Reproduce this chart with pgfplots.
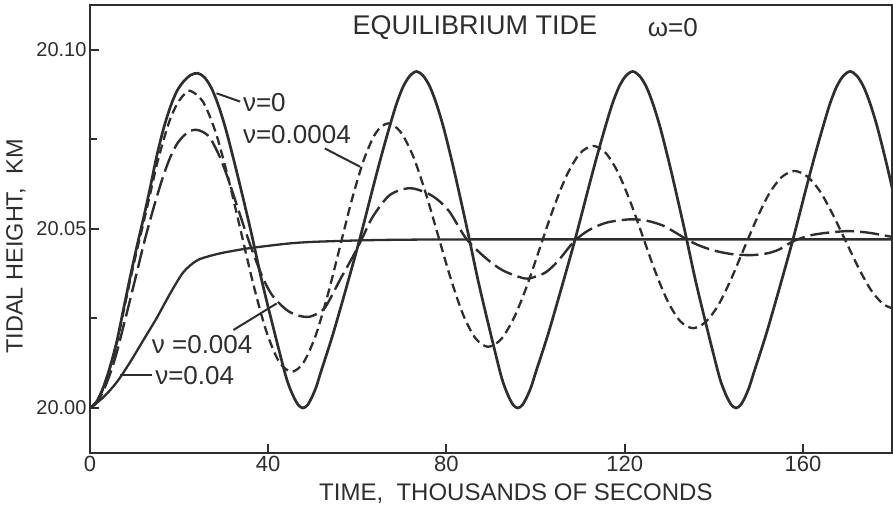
\documentclass[border=0pt]{standalone}
\usepackage{fontspec}
\setmainfont{Liberation Sans}
\usepackage{pgfplots}
\pgfplotsset{compat=1.18}
\definecolor{ink}{gray}{0.18}

\begin{document}
\begin{tikzpicture}
\useasboundingbox (-90pt,-58pt) rectangle (803pt,453pt);
\begin{axis}[
  at={(0pt,0pt)}, anchor=south west,
  scale only axis, width=802pt, height=448pt,
  xmin=0, xmax=180, ymin=19.98743, ymax=20.11257,
  axis line style={ink, line width=2.6pt},
  tick pos=left, tick align=inside,
  tick style={ink, line width=2pt},
  major tick length=9pt,
  xtick={0,40,80,120,160}, xticklabels={0,40,80,120,160},
  ytick={20.00,20.05,20.10}, yticklabels={20.00,20.05,20.10},
  extra y ticks={20.025,20.075}, extra y tick labels={},
  extra y tick style={major tick length=7pt},
  x tick label style={font=\fontsize{22}{26}\selectfont, text=ink},
  y tick label style={font=\fontsize{20}{24}\selectfont, text=ink},
  xlabel={TIME,\ \ THOUSANDS OF SECONDS},
  ylabel={TIDAL HEIGHT,\ \ KM},
  xlabel style={at={(axis description cs:0.531,-0.0915)}, anchor=center, font=\fontsize{24}{28}\selectfont, text=ink},
  ylabel style={at={(axis description cs:-0.0923,0.461)}, anchor=center, font=\fontsize{23.5}{28}\selectfont, text=ink},
]

% nu = 0
\addplot[ink, line width=2.7pt, smooth] coordinates {
(0,20.0000) (1.5,20.0018) (3,20.0058) (4.5,20.0115) (6,20.0185) (7.5,20.0275) (9,20.0365) (10.5,20.0450) (12,20.0530) (13.5,20.0615) (15,20.0705) (16.5,20.0780) (18,20.0840) (19.5,20.0885) (21,20.0912) (22.6,20.0930) (24.2,20.0935)
(25.74,20.0923) (27.28,20.0893) (28.82,20.0845) (30.56,20.0775) (32.92,20.0660) (36.0,20.0500) (38.57,20.0355) (41.13,20.0225) (43.7,20.0100) (44.72,20.0060) (45.75,20.0030) (46.77,20.0008) (47.8,20.0000)
(48.8,20.0008) (49.8,20.0030) (50.8,20.0060) (51.8,20.0100) (54.5,20.0205) (57.5,20.0335) (60.5,20.0470) (63.5,20.0615) (65.3,20.0700) (67.1,20.0780) (68.8,20.0850) (70.3,20.0898) (71.8,20.0928) (73.3,20.0940)
(74.78,20.0928) (76.26,20.0898) (77.74,20.0850) (79.42,20.0780) (81.69,20.0665) (84.65,20.0500) (87.12,20.0355) (89.58,20.0225) (92.05,20.0100) (93.04,20.0060) (94.03,20.0030) (95.01,20.0008) (96.0,20.0000)
(97.01,20.0008) (98.02,20.0030) (99.04,20.0060) (100.05,20.0100) (102.78,20.0205) (105.81,20.0335) (108.85,20.0470) (111.89,20.0615) (113.71,20.0700) (115.53,20.0780) (117.25,20.0850) (118.77,20.0898) (120.28,20.0928) (121.8,20.0940)
(123.31,20.0928) (124.83,20.0898) (126.34,20.0850) (128.05,20.0780) (130.37,20.0665) (133.4,20.0500) (135.92,20.0355) (138.44,20.0225) (140.97,20.0100) (141.97,20.0060) (142.98,20.0030) (143.99,20.0008) (145.0,20.0000)
(146.0,20.0008) (147.01,20.0030) (148.01,20.0060) (149.02,20.0100) (151.73,20.0205) (154.74,20.0335) (157.75,20.0470) (160.76,20.0615) (162.57,20.0700) (164.38,20.0780) (166.08,20.0850) (167.59,20.0898) (169.09,20.0928) (170.6,20.0940)
(172.1,20.0928) (173.6,20.0898) (175.1,20.0850) (176.8,20.0780) (179.1,20.0665) (182.1,20.0500)
};

% nu = 0.0004
\addplot[ink, line width=2.3pt, dash pattern=on 9pt off 5pt, smooth] coordinates {
(0,20.0000) (1.5,20.0017) (3,20.0056) (4.5,20.0112) (6,20.0180) (7.5,20.0268) (9,20.0356) (10.5,20.0439) (12,20.0517) (13.5,20.0598) (15,20.0680) (16.5,20.0748) (18,20.0807) (19.5,20.0848) (21,20.0874) (22.5,20.0886)
(25.34,20.0856) (28.18,20.0771) (31.01,20.0643) (33.85,20.0494) (36.69,20.0344) (39.53,20.0216) (42.36,20.0131) (45.2,20.0101)
(47.91,20.0127) (50.63,20.0202) (53.34,20.0315) (56.05,20.0448) (58.76,20.0581) (61.48,20.0694) (64.19,20.0769) (66.9,20.0795)
(69.7,20.0771) (72.5,20.0704) (75.3,20.0602) (78.1,20.0483) (80.9,20.0364) (83.7,20.0262) (86.5,20.0195) (89.3,20.0171)
(92.25,20.0192) (95.2,20.0253) (98.15,20.0344) (101.1,20.0452) (104.05,20.0559) (107.0,20.0650) (109.95,20.0711) (112.9,20.0732)
(115.7,20.0713) (118.5,20.0658) (121.3,20.0575) (124.1,20.0478) (126.9,20.0380) (129.7,20.0297) (132.5,20.0242) (135.3,20.0223)
(138.15,20.0240) (141.0,20.0287) (143.85,20.0359) (146.7,20.0443) (149.55,20.0526) (152.4,20.0598) (155.25,20.0645) (158.1,20.0662)
(160.95,20.0647) (163.8,20.0606) (166.65,20.0542) (169.5,20.0469) (172.35,20.0395) (175.2,20.0331) (178.05,20.0290) (180.9,20.0275)
};

% nu = 0.004
\addplot[ink, line width=2.4pt, dash pattern=on 19pt off 6pt, smooth] coordinates {
(0,20.0000) (1.5,20.0015) (3,20.0048) (4.5,20.0095) (6,20.0155) (7.5,20.0228) (9,20.0302) (10.5,20.0378) (12,20.0455) (13.5,20.0525) (15,20.0590) (16.5,20.0650) (18,20.0700) (19.5,20.0737) (21,20.0760) (22.5,20.0774) (23.8,20.0777) (25.2,20.0772) (26.9,20.0755) (29,20.0705) (31,20.0640) (33,20.0565) (35,20.0490) (37,20.0420) (39,20.0358) (41,20.0313) (44,20.0275) (46.5,20.0259) (49.3,20.0255)
(52.3,20.0274) (54.2,20.0312) (56.1,20.0358) (59,20.0423) (61,20.0472) (63.5,20.0535) (67.3,20.0595) (71.7,20.0614) (75.5,20.0601) (78,20.0582) (80.7,20.0548) (84.5,20.0472) (88.9,20.0418) (92.7,20.0384) (97.5,20.0362) (100,20.0367) (102.4,20.0380) (105,20.0410) (108.7,20.0466) (112,20.0497) (116,20.0518) (121.2,20.0527) (125,20.0523) (128.5,20.0510) (131,20.0493) (133.8,20.0472) (136.5,20.0455) (140,20.0440) (144,20.0430) (148.4,20.0427) (152,20.0432) (154.7,20.0443) (157.7,20.0465) (161,20.0480) (164.4,20.0488) (169.7,20.0494) (173,20.0492) (175.6,20.0488) (180,20.0478)
};

% nu = 0.04
\addplot[ink, line width=2.3pt, smooth] coordinates {
(0,20.0000) (3,20.0030) (6,20.0072) (9,20.0128) (12,20.0190) (15,20.0252) (18,20.0320) (21,20.0380) (24,20.0412) (27,20.0425) (30,20.0434) (35,20.0445) (40,20.0453) (45,20.0460) (50,20.0464) (60,20.0468) (70,20.0470) (90,20.0471) (180,20.0471)
};

% title and curve labels
\node[font=\fontsize{27}{32}\selectfont, text=ink] at (axis cs:86.4,20.1063) {EQUILIBRIUM TIDE};
\node[font=\fontsize{26}{30}\selectfont, text=ink] at (axis cs:130.8,20.1063) {ω=0};

\draw[ink, line width=2pt] (axis cs:28.4,20.0879) -- (axis cs:33.7,20.0856);
\node[anchor=west, inner sep=0pt, font=\fontsize{26}{30}\selectfont, text=ink] at (axis cs:34.3,20.0852) {ν=0};

\draw[ink, line width=2pt] (axis cs:52.7,20.0725) -- (axis cs:60.6,20.0674);
\node[anchor=west, inner sep=0pt, font=\fontsize{26}{30}\selectfont, text=ink] at (axis cs:34.3,20.0763) {ν=0.0004};

\draw[ink, line width=2pt] (axis cs:32.2,20.0218) -- (axis cs:41.9,20.0292);
\node[anchor=west, inner sep=0pt, font=\fontsize{26}{30}\selectfont, text=ink] at (axis cs:13.85,20.0176) {ν =0.004};

\draw[ink, line width=2pt] (axis cs:6.8,20.0092) -- (axis cs:13.85,20.0092);
\node[anchor=west, inner sep=0pt, font=\fontsize{26}{30}\selectfont, text=ink] at (axis cs:14.6,20.0092) {ν=0.04};

\end{axis}
\end{tikzpicture}
\end{document}
